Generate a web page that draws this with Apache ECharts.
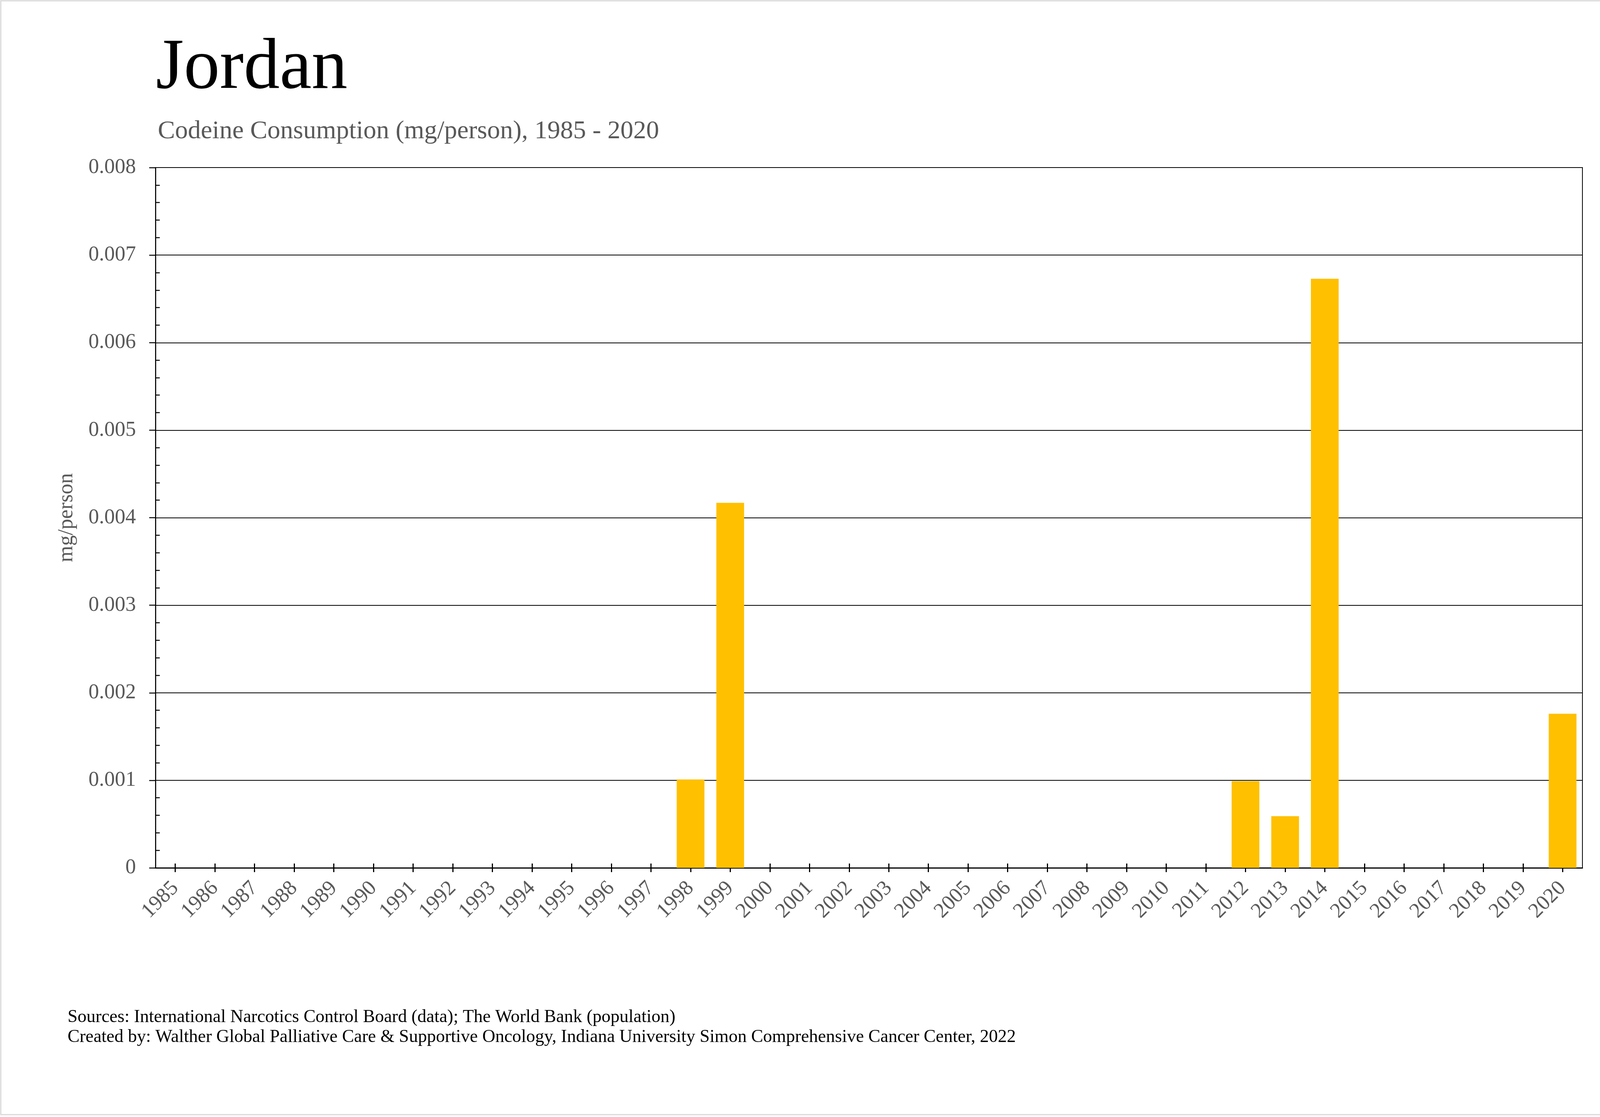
<!DOCTYPE html>
<html>
<head>
<meta charset="utf-8">
<script src="https://cdn.jsdelivr.net/npm/echarts@6/dist/echarts.min.js"></script>
<style>
  html, body { margin: 0; padding: 0; background: #fff; overflow: hidden; }
  #chart { width: 4221px; height: 2860px; }
</style>
</head>
<body>
<div id="chart"></div>
<script>
// ---- Data ----
const years = ['1985','1986','1987','1988','1989','1990','1991','1992','1993','1994','1995','1996',
  '1997','1998','1999','2000','2001','2002','2003','2004','2005','2006','2007','2008','2009','2010',
  '2011','2012','2013','2014','2015','2016','2017','2018','2019','2020'];
const codeineMgPerPerson = [null,null,null,null,null,null,null,null,null,null,null,null,
  null,0.00101,0.00417,null,null,null,null,null,null,null,null,null,null,null,
  null,0.00099,0.00059,0.00673,null,null,null,null,null,0.00176];
const yTicks = { min: 0, max: 0.008, interval: 0.001 };
const titleText = 'Jordan';
const subtitleText = 'Codeine Consumption (mg/person), 1985 - 2020';
const yAxisName = 'mg/person';
const footerLines = [
  'Sources: International Narcotics Control Board (data); The World Bank (population)',
  'Created by: Walther Global Palliative Care & Supportive Oncology, Indiana University Simon Comprehensive Cancer Center, 2022'
];

const serif = '"Liberation Serif", "Times New Roman", serif';
const gray = '#595959';

const chart = echarts.init(document.getElementById('chart'), null, { renderer: 'canvas' });

const fmt = v => (v === 0 ? '0' : v.toFixed(3));

chart.setOption({
  backgroundColor: '#ffffff',
  animation: false,
  title: [
    {
      text: titleText, left: 394, top: 80,
      textStyle: { fontFamily: serif, fontSize: 184, fontWeight: 'normal', color: '#000', lineHeight: 184 }
    },
    {
      text: subtitleText, left: 399, top: 299,
      textStyle: { fontFamily: serif, fontSize: 66, fontWeight: 'normal', color: gray, lineHeight: 66 }
    },
    {
      text: footerLines.join('\n'), left: 168, top: 2574,
      textStyle: { fontFamily: serif, fontSize: 46, fontWeight: 'normal', color: '#000', lineHeight: 51 }
    }
  ],
  graphic: [
    {
      type: 'rect', silent: true, z: 100,
      shape: { x: 2, y: 2, width: 4212, height: 2852 },
      style: { fill: 'none', stroke: '#d9d9d9', lineWidth: 3 }
    }
  ],
  grid: {
    left: 398, right: 170, top: 429, bottom: 638,
    show: true, borderColor: '#000', borderWidth: 2, backgroundColor: 'transparent',
    containLabel: false
  },
  xAxis: [
    {
      type: 'category', data: years, boundaryGap: true,
      axisLine: { show: true, lineStyle: { color: '#000', width: 3 } },
      axisTick: { show: true, alignWithLabel: true, length: 11, lineStyle: { color: '#000', width: 3 } },
      axisLabel: {
        rotate: 45, margin: 44, interval: 0,
        fontFamily: serif, fontSize: 54, color: gray
      },
      splitLine: { show: false }
    },
    {
      type: 'category', data: years, boundaryGap: true, position: 'bottom', offset: 0,
      axisLine: { show: false },
      axisTick: { show: true, inside: true, alignWithLabel: true, length: 11, lineStyle: { color: '#000', width: 3 } },
      axisLabel: { show: false },
      splitLine: { show: false }
    }
  ],
  yAxis: [
    {
      type: 'value', min: yTicks.min, max: yTicks.max, interval: yTicks.interval,
      name: yAxisName, nameLocation: 'middle', nameGap: 200, nameRotate: 90,
      nameTextStyle: { fontFamily: serif, fontSize: 54, color: gray },
      axisLine: { show: true, lineStyle: { color: '#000', width: 2.5 } },
      axisTick: { show: true, length: 16, lineStyle: { color: '#000', width: 2.5 } },
      axisLabel: { margin: 50, fontFamily: serif, fontSize: 54, color: gray, formatter: fmt },
      splitLine: { show: true, lineStyle: { color: '#000', width: 2 } }
    },
    {
      type: 'value', min: yTicks.min, max: yTicks.max, interval: yTicks.interval,
      position: 'left', offset: 0,
      axisLine: { show: false },
      axisTick: { show: false, inside: true },
      minorTick: { show: true, splitNumber: 5, length: 11, lineStyle: { color: '#000', width: 2.5 } },
      axisLabel: { show: false },
      splitLine: { show: false }
    }
  ],
  series: [
    {
      type: 'bar', name: 'Codeine', xAxisIndex: 0, yAxisIndex: 0,
      data: codeineMgPerPerson, barCategoryGap: '30%',
      itemStyle: { color: '#FFC000' }
    }
  ]
});
</script>
</body>
</html>
